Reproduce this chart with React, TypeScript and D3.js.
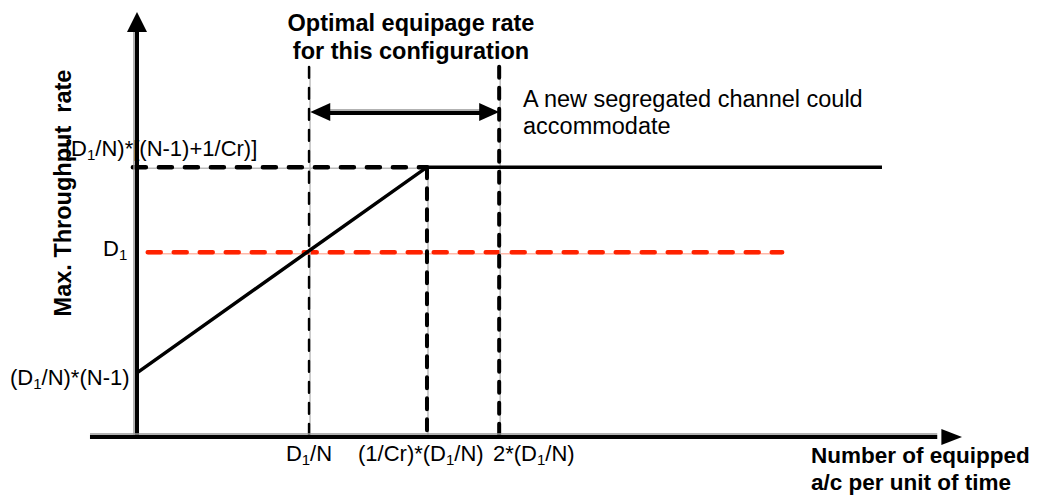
import React from "react";
import * as d3 from "d3";

// ---- data (schematic units) ----
const markerNames = ["D1/N", "(1/Cr)*(D1/N)", "2*(D1/N)"];
const markerX = [20.85, 35.15, 43.9];
const markerTop = [87.1, 63.5, 87.1];
const markerWidth = [2.4, 4, 4];

const throughputX = [0, 35.15, 90.3];
const throughputY = [15.1, 63.5, 63.5];

const d1Level = 43.5;
const d1Span = [1.3, 78.2];
const topLevel = 63.5;
const topDashSpan = [-0.5, 35.15];

const optimalSpan = [21.0, 43.9];
const optimalY = 76.5;

const W = 1043;
const H = 497;
const FONT = "'Liberation Sans', Arial, Helvetica, sans-serif";

type Part = string | { sub: string };

const Rich = ({ parts, size }: { parts: Part[]; size: number }) => (
  <>
    {parts.map((p, i) =>
      typeof p === "string" ? (
        <tspan key={i} fontSize={size} dy={i > 0 && typeof parts[i - 1] !== "string" ? -size * 0.18 : 0}>
          {p}
        </tspan>
      ) : (
        <tspan key={i} fontSize={size * 0.68} dy={size * 0.18}>
          {p.sub}
        </tspan>
      )
    )}
  </>
);

export default function App() {
  const x = d3.scaleLinear().domain([0, 100]).range([137, 962]);
  const y = d3.scaleLinear().domain([0, 100]).range([437, 12]);

  const line = d3
    .line<number>()
    .x((_, i) => x(throughputX[i]))
    .y((d) => y(d));

  const x0 = x(0);
  const y0 = y(0);
  const fs = 22;

  const tri = (pts: [number, number][]) => pts.map((p) => p.join(",")).join(" ");

  return (
    <svg width={W} height={H} style={{ position: "absolute", left: 0, top: 0, background: "#fff" }} fontFamily={FONT}>
      <rect width={W} height={H} fill="#fff" />

      {/* top dashed level */}
      <line x1={x(topDashSpan[0])} x2={x(topDashSpan[1])} y1={y(topLevel) + 1} y2={y(topLevel) + 1} stroke="#bbb" strokeWidth={1.5} />
      <line x1={x(topDashSpan[0])} x2={x(topDashSpan[1])} y1={y(topLevel)} y2={y(topLevel)} stroke="#000" strokeWidth={4.5} strokeDasharray="13 13" strokeLinecap="round" />

      {/* red D1 level */}
      <line x1={x(d1Span[0])} x2={x(d1Span[1])} y1={y(d1Level) + 1.5} y2={y(d1Level) + 1.5} stroke="#ffb8a8" strokeWidth={1.5} />
      <line x1={x(d1Span[0])} x2={x(d1Span[1])} y1={y(d1Level)} y2={y(d1Level)} stroke="#ff2200" strokeWidth={4.5} strokeDasharray="13 13" strokeLinecap="round" />

      {/* vertical markers */}
      {markerX.map((mx, i) => (
        <g key={markerNames[i]}>
          <line x1={x(mx) + 1} x2={x(mx) + 1} y1={y(markerTop[i])} y2={y0} stroke="#bbb" strokeWidth={1.5} />
          <line x1={x(mx)} x2={x(mx)} y1={y(markerTop[i])} y2={y0} stroke="#000" strokeWidth={markerWidth[i]} strokeDasharray="11 10" strokeLinecap="round" />
        </g>
      ))}

      {/* throughput curve */}
      <path d={line(throughputY) || ""} fill="none" stroke="#000" strokeWidth={3.5} />

      {/* optimal double arrow */}
      <line x1={x(optimalSpan[0]) + 12} x2={x(optimalSpan[1]) - 12} y1={y(optimalY) - 2} y2={y(optimalY) - 2} stroke="#999" strokeWidth={1.5} />
      <line x1={x(optimalSpan[0]) + 12} x2={x(optimalSpan[1]) - 12} y1={y(optimalY) + 1} y2={y(optimalY) + 1} stroke="#000" strokeWidth={4} />
      <polygon points={tri([[x(optimalSpan[0]), y(optimalY)], [x(optimalSpan[0]) + 20, y(optimalY) - 9], [x(optimalSpan[0]) + 20, y(optimalY) + 9]])} fill="#000" />
      <polygon points={tri([[x(optimalSpan[1]), y(optimalY)], [x(optimalSpan[1]) - 20, y(optimalY) - 9], [x(optimalSpan[1]) - 20, y(optimalY) + 9]])} fill="#000" />

      {/* axes */}
      <line x1={x0 - 3} x2={x0 - 3} y1={y0} y2={y(96)} stroke="#999" strokeWidth={1.5} />
      <line x1={x0} x2={x0} y1={y0 + 2} y2={y(96)} stroke="#000" strokeWidth={4} />
      <polygon points={tri([[x0, y(100)], [x0 - 10, y(95.3)], [x0 + 10, y(95.3)]])} fill="#000" />
      <line x1={x(-5.7)} x2={x(97)} y1={y0 - 3} y2={y0 - 3} stroke="#999" strokeWidth={1.5} />
      <line x1={x(-5.7)} x2={x(97)} y1={y0} y2={y0} stroke="#000" strokeWidth={4} />
      <polygon points={tri([[x(100), y0], [x(97.5), y0 - 8], [x(97.5), y0 + 8]])} fill="#000" />

      {/* top title */}
      <text x={411} y={31} textAnchor="middle" fontSize={23.5} fontWeight="bold">Optimal equipage rate</text>
      <text x={411} y={59} textAnchor="middle" fontSize={23.5} fontWeight="bold">for this configuration</text>

      <text x={523} y={107} fontSize={23.5}>A new segregated channel could</text>
      <text x={523} y={134} fontSize={23.5}>accommodate</text>

      {/* y labels */}
      <text x={65} y={156}>
        <Rich size={fs} parts={["[D", { sub: "1" }, "/N)*[(N-1)+1/Cr)]"]} />
      </text>
      <text x={103} y={256}>
        <Rich size={fs} parts={["D", { sub: "1" }, ""]} />
      </text>
      <text x={10} y={385}>
        <Rich size={fs} parts={["(D", { sub: "1" }, "/N)*(N-1)"]} />
      </text>

      {/* x labels */}
      <text x={x(markerX[0])} y={461} textAnchor="middle">
        <Rich size={fs} parts={["D", { sub: "1" }, "/N"]} />
      </text>
      <text x={358} y={461}>
        <Rich size={fs} parts={["(1/Cr)*(D", { sub: "1" }, "/N)"]} />
      </text>
      <text x={493} y={461}>
        <Rich size={fs} parts={["2*(D", { sub: "1" }, "/N)"]} />
      </text>

      {/* axis titles */}
      <text x={811} y={463} fontSize={22.5} fontWeight="bold">Number of equipped</text>
      <text x={811} y={490} fontSize={22.5} fontWeight="bold">a/c per unit of time</text>
      <text transform={`translate(71, 193) rotate(-90)`} textAnchor="middle" fontSize={23.5} fontWeight="bold" style={{ whiteSpace: "pre" }}>
        {"Max. Throughput  rate"}
      </text>
    </svg>
  );
}
